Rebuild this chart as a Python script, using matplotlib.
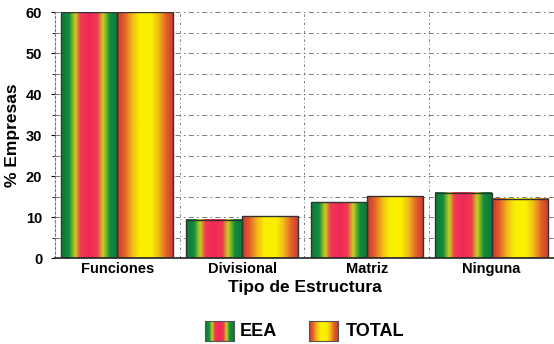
import numpy as np
import matplotlib
matplotlib.use("Agg")
import matplotlib.pyplot as plt
from matplotlib.colors import LinearSegmentedColormap
from matplotlib.patches import Rectangle

categories = ["Funciones", "Divisional", "Matriz", "Ninguna"]
eea = [60, 9.3, 13.6, 15.9]
total = [60, 10.2, 15.1, 14.4]
series_names = ["EEA", "TOTAL"]
yticks = [0, 10, 20, 30, 40, 50, 60]

plt.rcParams['font.family'] = ['Liberation Sans', 'DejaVu Sans']
plt.rcParams['font.weight'] = 'bold'

cmap_eea = LinearSegmentedColormap.from_list("eea", [
    (0.0, "#0b7a3a"), (0.14, "#128c3c"), (0.25, "#c8d020"), (0.34, "#f03a50"),
    (0.5, "#f02858"), (0.64, "#f03a50"), (0.74, "#c8d020"), (0.86, "#128c3c"), (1.0, "#0b7a3a")])
cmap_tot = LinearSegmentedColormap.from_list("tot", [
    (0.0, "#c83a30"), (0.12, "#e25a2a"), (0.28, "#f2c018"), (0.4, "#faf000"),
    (0.6, "#faf000"), (0.72, "#f2c018"), (0.88, "#e25a2a"), (1.0, "#c83a30")])

fig = plt.figure(figsize=(5.54, 3.44), dpi=100)
ax = fig.add_axes([0.099, 0.25, 0.901, 0.715])

grad = np.linspace(0, 1, 256).reshape(1, -1)
x = np.arange(len(categories))
w = 0.45
for i in range(len(categories)):
    for vals, cm, off in ((eea, cmap_eea, -w), (total, cmap_tot, 0.0)):
        l = x[i] + off
        h = vals[i]
        ax.imshow(grad, cmap=cm, aspect='auto', extent=(l, l + w, 0, h),
                  interpolation='bilinear', zorder=2)
        ax.add_patch(Rectangle((l, 0), w, h, fill=False, edgecolor='#333333',
                               linewidth=1.0, zorder=3))

ax.set_xlim(-0.5, len(categories) - 0.5)
ax.set_ylim(0, 60)
ax.set_yticks(yticks)
ax.set_yticks(np.arange(0, 61, 5), minor=True)
ax.set_xticks(x)
ax.set_xticklabels(categories, fontsize=10.5, fontweight='bold')
ax.tick_params(axis='x', length=0, pad=3)
ax.tick_params(axis='y', labelsize=10.5, length=3, width=0.8, pad=6)
ax.tick_params(axis='y', which='minor', length=2)
for t in ax.get_yticklabels():
    t.set_fontweight('bold')

ax.grid(True, which='both', axis='y', linestyle=(0, (6, 4, 2, 4)),
        color='#666666', linewidth=0.6, zorder=0)
for b in [0.5, 1.5, 2.5]:
    ax.axvline(b, linestyle=(0, (3, 3, 1, 3)), color='#666666', linewidth=0.6, zorder=0)

for s in ['top', 'right']:
    ax.spines[s].set_visible(False)
ax.spines['left'].set_color('#777777')
ax.spines['left'].set_linestyle((0, (2, 2)))
ax.spines['bottom'].set_color('#222222')
ax.spines['bottom'].set_linewidth(1.2)

ax.set_ylabel("% Empresas", fontsize=12.5, fontweight='bold', labelpad=4)
ax.set_xlabel("Tipo de Estructura", fontsize=12.5, fontweight='bold', labelpad=3)

# legend
W, H = 554.0, 344.0
for (px, cm, name, tx) in ((205, cmap_eea, series_names[0], 240),
                           (309, cmap_tot, series_names[1], 346)):
    lax = fig.add_axes([px / W, 1 - 341 / H, 29 / W, 20 / H])
    lax.imshow(grad, cmap=cm, aspect='auto', interpolation='bilinear')
    lax.set_xticks([]); lax.set_yticks([])
    for s in lax.spines.values():
        s.set_color('#555555'); s.set_linewidth(0.8)
    fig.text(tx / W, 1 - 331 / H, name, fontsize=13, fontweight='bold', va='center', ha='left')

fig.savefig("out.png", dpi=100)
